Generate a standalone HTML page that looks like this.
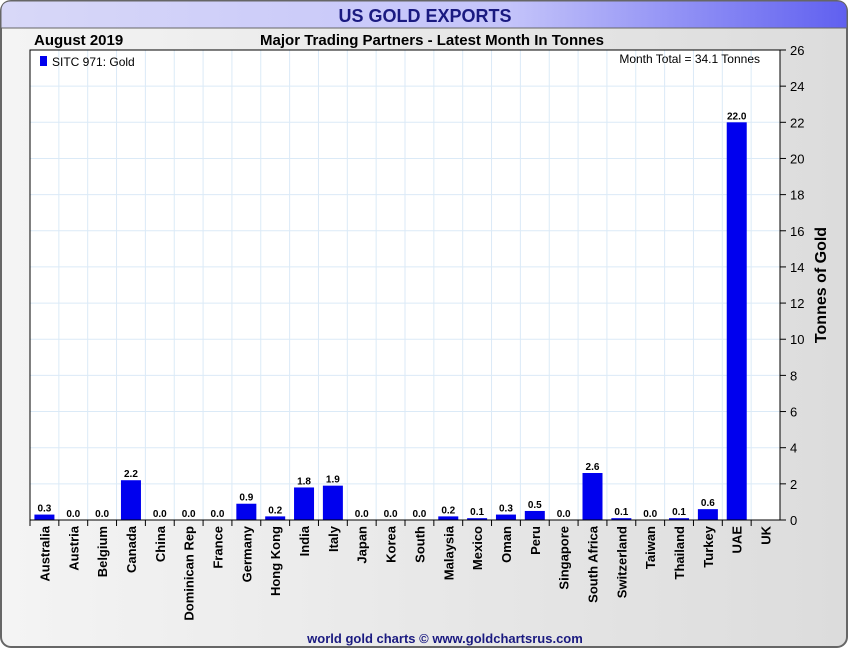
<!DOCTYPE html>
<html><head><meta charset="utf-8"><style>
body{margin:0;width:850px;height:650px;overflow:hidden;background:#fff;font-family:"Liberation Sans",Arial,sans-serif}
</style></head><body>
<svg id="chart" width="850" height="650" xmlns="http://www.w3.org/2000/svg">
<defs>
<linearGradient id="bg" x1="0" x2="1" y1="0" y2="0"><stop offset="0" stop-color="#f4f4f4"/><stop offset="1" stop-color="#dcdcdc"/></linearGradient>
<linearGradient id="tb" x1="0" x2="1" y1="0" y2="0"><stop offset="0" stop-color="#d8d8f8"/><stop offset="0.6" stop-color="#c4c4fa"/><stop offset="1" stop-color="#6060f0"/></linearGradient>
</defs>
<rect x="1" y="1" width="846" height="646" rx="10" fill="url(#bg)" stroke="#666" stroke-width="2"/>
<path d="M1,28 L1,11 Q1,1 11,1 L837,1 Q847,1 847,11 L847,28 Z" fill="url(#tb)" stroke="#666" stroke-width="1"/>
<text x="425" y="22" text-anchor="middle" font-size="18" font-weight="bold" fill="#1a1a80">US GOLD EXPORTS</text>
<text x="34" y="45" font-size="15" font-weight="bold" fill="#000">August 2019</text>
<text x="432" y="45" text-anchor="middle" font-size="15" font-weight="bold" fill="#000">Major Trading Partners - Latest Month In Tonnes</text>
<rect x="30" y="50" width="750" height="470" fill="#fff"/>
<g id="grid"></g>
<g id="bars"></g>
<rect x="30" y="50" width="750" height="470" fill="none" stroke="#000" stroke-width="1"/>
<g id="axes"></g>
<rect x="40" y="56" width="7" height="10" fill="#0000ee"/>
<text x="52" y="66" font-size="12" fill="#000">SITC 971: Gold</text>
<text x="760" y="63" text-anchor="end" font-size="12" fill="#000">Month Total = 34.1 Tonnes</text>
<text transform="translate(826,285) rotate(-90)" text-anchor="middle" font-size="16" font-weight="bold" fill="#000">Tonnes of Gold</text>
<text x="445" y="643" text-anchor="middle" font-size="13" font-weight="bold" fill="#1a1a80">world gold charts © www.goldchartsrus.com</text>
</svg>
<script>
const categories=["Australia","Austria","Belgium","Canada","China","Dominican Rep","France","Germany","Hong Kong","India","Italy","Japan","Korea","South","Malaysia","Mexico","Oman","Peru","Singapore","South Africa","Switzerland","Taiwan","Thailand","Turkey","UAE","UK"];
const values=[0.3,0.0,0.0,2.2,0.0,0.0,0.0,0.9,0.2,1.8,1.9,0.0,0.0,0.0,0.2,0.1,0.3,0.5,0.0,2.6,0.1,0.0,0.1,0.6,22.0,null];
const yTicks=[0,2,4,6,8,10,12,14,16,18,20,22,24,26];
const NS="http://www.w3.org/2000/svg";
const L=30,R=780,T=50,B=520,yMax=26;
const bw=(R-L)/categories.length;
function y(v){return B-v/yMax*(B-T);}
function x(i){return L+i*bw;}
function mk(t,a,p){const e=document.createElementNS(NS,t);for(const k in a)e.setAttribute(k,a[k]);p.appendChild(e);return e;}
const grid=document.getElementById('grid'),bars=document.getElementById('bars'),axes=document.getElementById('axes');
yTicks.forEach(v=>{
  const g=mk('line',{x1:L,x2:R,y1:y(v),y2:y(v),stroke:'#dbeaf7','stroke-width':1},grid);
  
  
  const t=mk('line',{x1:R,x2:R+6,y1:y(v),y2:y(v),stroke:'#000'},axes);
  
  
  const lb=mk('text',{x:R+10,y:y(v)+5,'font-size':13,fill:'#000'},axes);
  lb.textContent=v;
  
  
});
categories.forEach((c,i)=>{
  if(i>0){const g=mk('line',{x1:x(i),x2:x(i),y1:T,y2:B,stroke:'#dbeaf7'},grid);
  
  }
  const tk=mk('line',{x1:x(i),x2:x(i),y1:B,y2:B+6,stroke:'#000'},axes);
  
  
  const cx=x(i)+bw/2;
  const lb=mk('text',{transform:`translate(${cx+5},${B+6}) rotate(-90)`,'text-anchor':'end','font-size':13,'font-weight':'bold',fill:'#000'},axes);
  lb.textContent=c;
  
  
  const v=values[i];
  if(v!==null){
    const h=Math.max(B-y(v),v>0?1:0);
    const b=mk('rect',{x:cx-10,y:B-h,width:20,height:h,fill:'#0000ee'},bars);
    
    
    const vl=mk('text',{x:cx,y:B-h-3,'text-anchor':'middle','font-size':10,'font-weight':'bold',fill:'#000'},bars);
    vl.textContent=v.toFixed(1);
    
    
  }
});
const ax=mk('line',{x1:L,x2:R,y1:B,y2:B,stroke:'#000'},axes);


</script>
</body></html>
